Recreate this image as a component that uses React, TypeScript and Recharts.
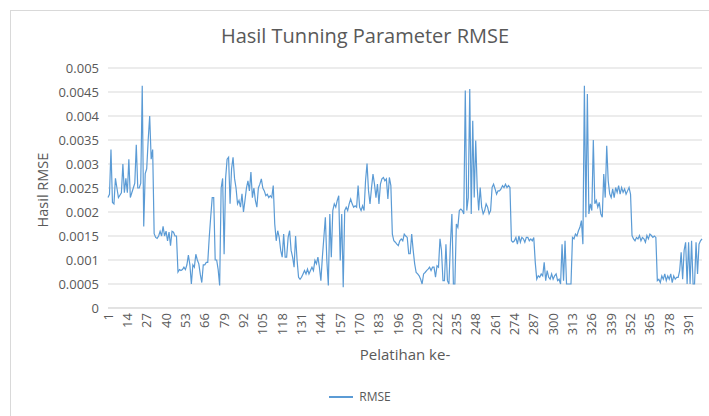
import { CartesianGrid, Line, LineChart, XAxis, YAxis } from "recharts";

// RMSE per training run (pelatihan 1..400)
const rmse = [
  0.0023, 0.00237, 0.0033, 0.0022, 0.00217, 0.0027, 0.0025, 0.0023, 0.00235, 0.0024,
  0.003, 0.0024, 0.0027, 0.0024, 0.0031, 0.0023, 0.0024, 0.0025, 0.0026, 0.0034,
  0.0025, 0.0025, 0.0026, 0.00463, 0.0017, 0.0028, 0.0029, 0.0035, 0.004, 0.0031,
  0.0033, 0.00155, 0.00147, 0.00145, 0.0015, 0.0016, 0.0015, 0.0017, 0.0015, 0.0016,
  0.0014, 0.00158, 0.0013, 0.0016, 0.00158, 0.0015, 0.0015, 0.00075, 0.0008, 0.00078,
  0.0008, 0.00085, 0.0008, 0.0009, 0.0011, 0.0009, 0.0005, 0.0009, 0.00085, 0.00112,
  0.001, 0.00092, 0.0007, 0.00053, 0.0009, 0.0009, 0.00095, 0.00095, 0.00147, 0.0019,
  0.0023, 0.0023, 0.001, 0.001, 0.0008, 0.00047, 0.0025, 0.0027, 0.00112, 0.0027,
  0.0031, 0.00314, 0.00217, 0.0029, 0.00314, 0.0027, 0.0025, 0.00217, 0.00224, 0.0021,
  0.00238, 0.002, 0.00224, 0.0025, 0.00265, 0.00244, 0.00283, 0.0023, 0.0025, 0.00224,
  0.0021, 0.0025, 0.00258, 0.00269, 0.0025, 0.00244, 0.00234, 0.00237, 0.0023, 0.00234,
  0.0023, 0.00255, 0.00175, 0.0014, 0.00161, 0.00147, 0.0012, 0.00106, 0.00154, 0.00106,
  0.00106, 0.00147, 0.00161, 0.0012, 0.00106, 0.00085, 0.0015, 0.001, 0.00064, 0.0006,
  0.00064, 0.00071, 0.00078, 0.00071, 0.00081, 0.00071, 0.00078, 0.00085, 0.00078, 0.00099,
  0.00092, 0.00106, 0.00085, 0.00057, 0.00106, 0.00147, 0.00189, 0.00099, 0.00047, 0.00196,
  0.00106, 0.00203, 0.00217, 0.0021, 0.00224, 0.00234, 0.00099, 0.00196, 0.00043, 0.00203,
  0.0021, 0.00203, 0.00217, 0.00227, 0.00217, 0.0021, 0.00213, 0.0021, 0.00255, 0.0021,
  0.00203, 0.00213, 0.00203, 0.00265, 0.00301, 0.00244, 0.00217, 0.0025, 0.00279, 0.00258,
  0.0023, 0.00258, 0.00217, 0.00258, 0.00269, 0.00272, 0.00265, 0.00269, 0.00227, 0.00272,
  0.00255, 0.00154, 0.0014, 0.00137, 0.00133, 0.0013, 0.0014, 0.00144, 0.0014, 0.00154,
  0.0015, 0.00147, 0.00113, 0.00113, 0.00154, 0.0012, 0.00092, 0.00074, 0.00071, 0.00067,
  0.0006, 0.0005, 0.00071, 0.00074, 0.00078, 0.00081, 0.00085, 0.00078, 0.00085, 0.00085,
  0.00064, 0.00088, 0.00085, 0.00144, 0.0012, 0.00057, 0.00057, 0.00133, 0.00057, 0.0005,
  0.00133, 0.00196, 0.0005, 0.0005, 0.00175, 0.00168, 0.00203, 0.00206, 0.00203, 0.00196,
  0.00453, 0.00203, 0.0023, 0.00456, 0.00196, 0.0039, 0.0023, 0.00349, 0.00251, 0.00203,
  0.00251, 0.0021, 0.00196, 0.00203, 0.00217, 0.0021, 0.00196, 0.00203, 0.00251, 0.00258,
  0.00248, 0.00237, 0.00244, 0.00244, 0.00248, 0.00255, 0.00251, 0.00258, 0.00251, 0.00255,
  0.00251, 0.0014, 0.00137, 0.0014, 0.00147, 0.00133, 0.0015, 0.00137, 0.00147, 0.00144,
  0.00137, 0.00147, 0.00147, 0.0014, 0.00144, 0.0014, 0.00147, 0.00095, 0.0006, 0.00067,
  0.00064, 0.00071, 0.00067, 0.00095, 0.00057, 0.00078, 0.00064, 0.0006, 0.00071, 0.0006,
  0.00067, 0.00071, 0.00057, 0.0006, 0.0005, 0.00133, 0.00057, 0.0014, 0.0005, 0.0005,
  0.0005, 0.0005, 0.00147, 0.00144, 0.00154, 0.0015, 0.00161, 0.00168, 0.00182, 0.00133,
  0.00463, 0.00189, 0.00446, 0.00196, 0.00217, 0.00203, 0.0035, 0.00217, 0.00224, 0.0021,
  0.0022, 0.00196, 0.00189, 0.00279, 0.0023, 0.00338, 0.00265, 0.00238, 0.0023, 0.00248,
  0.0023, 0.00251, 0.00241, 0.00255, 0.00237, 0.00251, 0.00241, 0.00248, 0.00237, 0.00244,
  0.00251, 0.00237, 0.00151, 0.00144, 0.0014, 0.00147, 0.00144, 0.00151, 0.0014, 0.00147,
  0.00144, 0.00137, 0.00151, 0.00144, 0.00154, 0.00151, 0.00147, 0.0015, 0.00147, 0.00057,
  0.0006, 0.00053, 0.00067, 0.0006, 0.00071, 0.00057, 0.00067, 0.0006, 0.00071, 0.00053,
  0.00067, 0.0006, 0.00064, 0.00064, 0.00078, 0.00116, 0.0006, 0.0012, 0.00137, 0.0005,
  0.00137, 0.0005, 0.0014, 0.0005, 0.0005, 0.00137, 0.00071, 0.00133, 0.0014, 0.00144,
];

const yTicks = [0, 0.0005, 0.001, 0.0015, 0.002, 0.0025, 0.003, 0.0035, 0.004, 0.0045, 0.005];

const title = "Hasil Tunning Parameter RMSE";
const xTitle = "Pelatihan ke-";
const yTitle = "Hasil RMSE";
const seriesName = "RMSE";

const data = rmse.map((v, i) => ({ run: i + 1, RMSE: v }));

const FONT = "'Open Sans', sans-serif";
const TEXT = "#595959";
const GRID = "#d9d9d9";
const LINE = "#5b9bd5";

function RotatedTick({ x, y, payload }: any) {
  return (
    <text
      x={x}
      y={y}
      dy={4.5}
      transform={`rotate(-90 ${x} ${y})`}
      textAnchor="end"
      fill={TEXT}
      fontSize={13}
      fontFamily={FONT}
    >
      {payload.value}
    </text>
  );
}

export default function App() {
  return (
    <div
      style={{
        position: "absolute",
        left: 0,
        top: 0,
        width: 709,
        height: 416,
        overflow: "hidden",
        background: "#fff",
        fontFamily: FONT,
      }}
    >
      <div
        style={{
          position: "absolute",
          left: 10,
          top: 10,
          width: 720,
          height: 430,
          border: `1px solid ${GRID}`,
        }}
      />
      <div
        style={{
          position: "absolute",
          top: 22,
          left: 0,
          width: 730,
          textAlign: "center",
          fontSize: 20,
          color: TEXT,
        }}
      >
        {title}
      </div>
      <LineChart
        width={709}
        height={416}
        data={data}
        margin={{ top: 68, right: 7, bottom: 68, left: 48 }}
        style={{ position: "absolute", left: 0, top: 0 }}
      >
        <CartesianGrid vertical={false} stroke={GRID} />
        <XAxis
          dataKey="run"
          interval={12}
          height={40}
          tickLine={false}
          tickSize={0}
          tickMargin={5}
          axisLine={{ stroke: GRID }}
          tick={<RotatedTick />}
        />
        <YAxis
          domain={[0, 0.005]}
          ticks={yTicks}
          width={60}
          axisLine={false}
          tickLine={false}
          tickSize={0}
          tickMargin={9}
          tick={{ fill: TEXT, fontSize: 13, fontFamily: FONT }}
        />
        <Line
          type="linear"
          dataKey="RMSE"
          stroke={LINE}
          strokeWidth={1.2}
          dot={false}
          isAnimationActive={false}
        />
      </LineChart>
      <div
        style={{
          position: "absolute",
          left: 42,
          top: 190,
          transform: "translate(-50%, -50%) rotate(-90deg)",
          fontSize: 14.5,
          color: TEXT,
          whiteSpace: "nowrap",
        }}
      >
        {yTitle}
      </div>
      <div
        style={{
          position: "absolute",
          top: 344,
          left: 108,
          width: 594,
          textAlign: "center",
          fontSize: 15,
          color: TEXT,
        }}
      >
        {xTitle}
      </div>
      <div
        style={{
          position: "absolute",
          top: 388,
          left: 0,
          width: 720,
          display: "flex",
          justifyContent: "center",
          alignItems: "center",
          gap: 6,
          fontSize: 12,
          color: TEXT,
        }}
      >
        <span style={{ display: "inline-block", width: 24, borderTop: `2px solid ${LINE}` }} />
        <span>{seriesName}</span>
      </div>
    </div>
  );
}
